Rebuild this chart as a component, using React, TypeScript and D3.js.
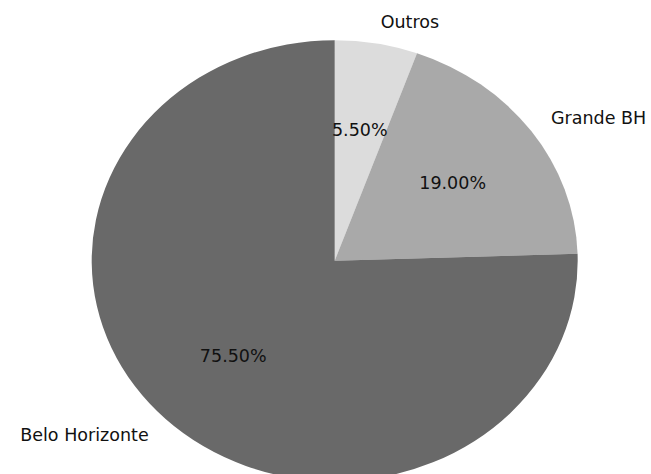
import { useEffect, useRef } from 'react';
import * as d3 from 'd3';

const labels = ['Outros', 'Grande BH', 'Belo Horizonte'];
const shares = [5.5, 19.0, 75.5];
const colors = ['#dcdcdc', '#a9a9a9', '#696969'];

export default function App() {
  const svgRef = useRef<SVGSVGElement>(null);
  const width = 651;
  const height = 474;

  useEffect(() => {
    if (!svgRef.current) return;
    const svg = d3.select(svgRef.current);
    svg.selectAll('*').remove();

    const cx = 334.7;
    const cy = 260.7;
    const rx = 243;
    const ry = 220.5;

    const pie = d3.pie<number>().sort(null).value(d => d);
    const arcs = pie(shares);
    const arc = d3.arc<d3.PieArcDatum<number>>().innerRadius(0).outerRadius(ry);

    const g = svg.append('g').attr('transform', `translate(${cx},${cy})`);

    // slices, stretched horizontally like the original
    g.append('g')
      .attr('transform', `scale(${rx / ry},1)`)
      .selectAll('path')
      .data(arcs)
      .enter().append('path')
      .attr('d', arc)
      .attr('fill', (d, i) => colors[i]);

    const pos = (d: d3.PieArcDatum<number>, k: number) => {
      const a = (d.startAngle + d.endAngle) / 2;
      return [Math.sin(a) * rx * k, -Math.cos(a) * ry * k];
    };

    // category labels
    g.selectAll('.lbl')
      .data(arcs)
      .enter().append('text')
      .attr('class', 'lbl')
      .attr('x', d => pos(d, 1.1)[0])
      .attr('y', d => pos(d, 1.1)[1])
      .attr('dy', '0.35em')
      .attr('text-anchor', d => (pos(d, 1)[0] >= 0 ? 'start' : 'end'))
      .style('font-family', 'DejaVu Sans')
      .style('font-size', '17.5px')
      .style('fill', '#111')
      .text((d, i) => labels[i]);

    // percentages
    g.selectAll('.pct')
      .data(arcs)
      .enter().append('text')
      .attr('class', 'pct')
      .attr('x', d => pos(d, 0.6)[0])
      .attr('y', d => pos(d, 0.6)[1])
      .attr('dy', '0.35em')
      .attr('text-anchor', 'middle')
      .style('font-family', 'DejaVu Sans')
      .style('font-size', '17.5px')
      .style('fill', '#111')
      .text(d => d.data.toFixed(2) + '%');
  }, []);

  return (
    <div style={{ position: 'fixed', left: 0, top: 0 }}>
      <svg ref={svgRef} width={width} height={height} style={{ display: 'block', background: '#fff' }} />
    </div>
  );
}
